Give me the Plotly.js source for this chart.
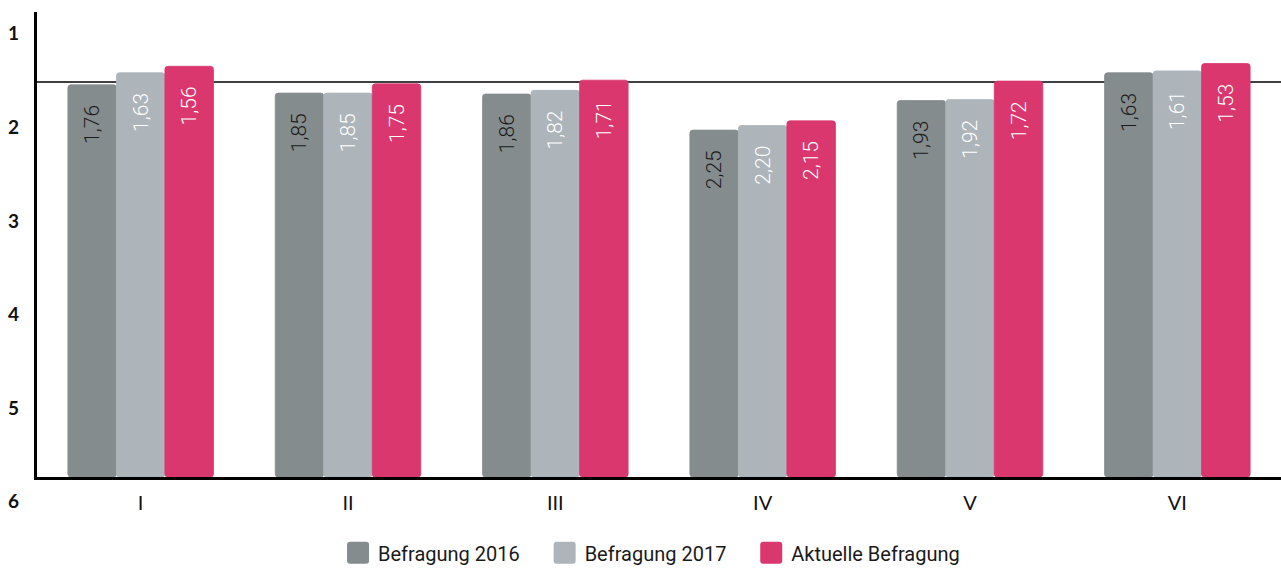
<!DOCTYPE html>
<html>
<head>
<meta charset="utf-8">
<script src="https://cdn.plot.ly/plotly-3.0.1.min.js"></script>
<style>
  html, body { margin: 0; padding: 0; background: #ffffff; }
  #chart { width: 1281px; height: 569px; }
</style>
</head>
<body>
<div id="chart"></div>
<script>
// ---- data ----
const categories = ['I', 'II', 'III', 'IV', 'V', 'VI'];
const seriesNames = ['Befragung 2016', 'Befragung 2017', 'Aktuelle Befragung'];
const befragung2016 = [1.76, 1.85, 1.86, 2.25, 1.93, 1.63];
const befragung2017 = [1.63, 1.85, 1.82, 2.20, 1.92, 1.61];
const aktuelleBefragung = [1.56, 1.75, 1.71, 2.15, 1.72, 1.53];
const yTickLabels = ['1', '2', '3', '4', '5', '6'];
const referenceValue = 1.73;

// ---- style ----
const scaleBottom = 6;
const scaleTop = 0.973;
const colors = ['#858c8e', '#adb5ba', '#d9376e'];
const textColors = ['#1a1a1a', '#ffffff', '#ffffff'];
const fmt = v => v.toFixed(2).replace('.', ',');
const pad = '\u2009\u2009\u2009\u2009';
const legendPad = '\u00a0\u00a0\u00a0\u00a0';
const toPaper = v => (scaleBottom - v) / (scaleBottom - scaleTop);

const seriesValues = [befragung2016, befragung2017, aktuelleBefragung];
const traces = seriesValues.map((vals, i) => ({
  type: 'bar',
  name: seriesNames[i] + (i < seriesNames.length - 1 ? legendPad : ''),
  x: categories,
  y: vals.map(v => v - scaleBottom),
  base: scaleBottom,
  text: vals.map(v => fmt(v) + pad),
  textposition: 'inside',
  insidetextanchor: 'end',
  textangle: -90,
  constraintext: 'none',
  textfont: { family: 'Roboto, sans-serif', size: 21, weight: 300, color: textColors[i] },
  marker: { color: colors[i], line: { width: 0.8, color: colors[i] } },
  hoverinfo: 'skip'
}));

const annotations = yTickLabels.map((t, k) => ({
  text: t,
  xref: 'paper', x: 0, xanchor: 'center', xshift: -24,
  yref: 'paper', y: toPaper(1.20 + k * 1.011), yanchor: 'middle',
  showarrow: false,
  font: { family: 'Lato, sans-serif', size: 19, weight: 700, color: '#111111' }
}));

const layout = {
  width: 1281, height: 569,
  margin: { l: 37, r: 0, t: 12, b: 92, autoexpand: false },
  paper_bgcolor: '#ffffff', plot_bgcolor: '#ffffff',
  barmode: 'group', bargap: 0.298, bargroupgap: 0,
  barcornerradius: 3,
  showlegend: true,
  legend: {
    orientation: 'h', x: 0.494, xanchor: 'center', xref: 'paper',
    y: -0.163, yanchor: 'middle',
    font: { family: 'Roboto, sans-serif', size: 20, color: '#1a1a1a' },
    traceorder: 'normal'
  },
  xaxis: {
    type: 'category',
    showline: true, linecolor: '#000000', linewidth: 3,
    showgrid: false, zeroline: false, ticks: '',
    ticklabelstandoff: 6,
    tickfont: { family: 'Lato, sans-serif', size: 20, weight: 400, color: '#111111' }
  },
  yaxis: {
    range: [scaleBottom, scaleTop],
    showline: true, linecolor: '#000000', linewidth: 3.5,
    showgrid: false, zeroline: false, ticks: '', showticklabels: false
  },
  shapes: [{
    type: 'line', xref: 'paper', x0: 0, x1: 1, yref: 'y', y0: referenceValue, y1: referenceValue,
    line: { color: '#000000', width: 1.5 }, layer: 'below'
  }],
  annotations: annotations
};

Plotly.newPlot('chart', traces, layout, { displayModeBar: false, staticPlot: true }).then(() => {
  document.querySelectorAll('#chart .legendpoints path').forEach(p => {
    p.setAttribute('d', 'M-8,-11H8A3,3 0 0 1 11,-8V8A3,3 0 0 1 8,11H-8A3,3 0 0 1 -11,8V-8A3,3 0 0 1 -8,-11Z');
    p.style.strokeWidth = '0';
  });
});
</script>
</body>
</html>
